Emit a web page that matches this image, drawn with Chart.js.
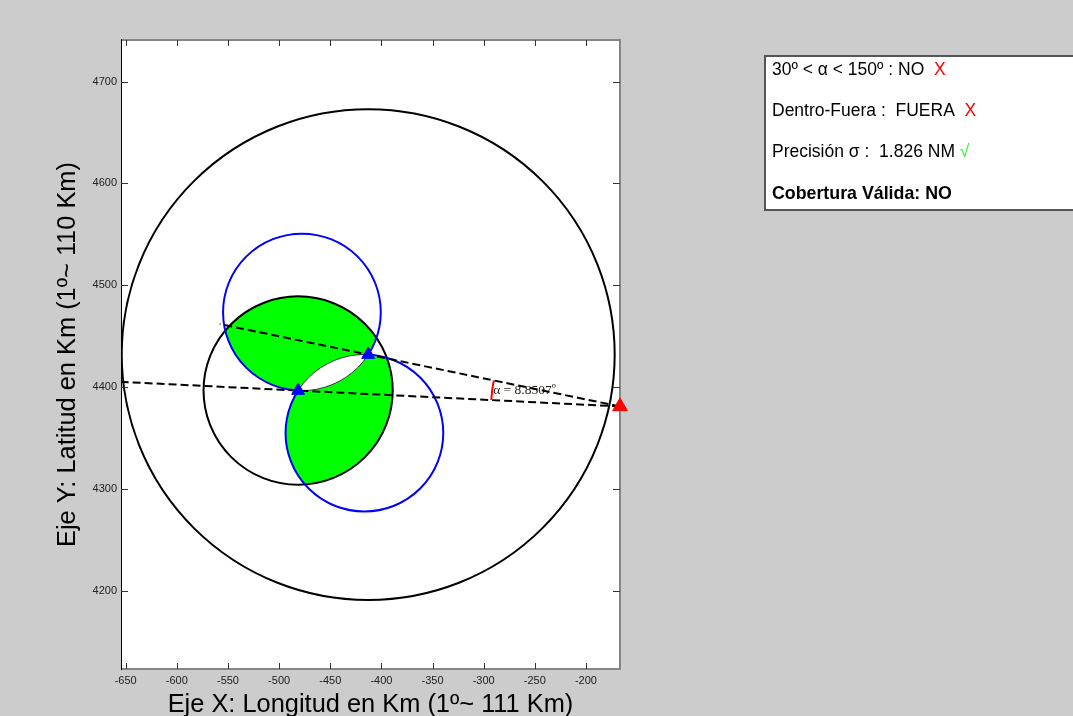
<!DOCTYPE html>
<html>
<head>
<meta charset="utf-8">
<script src="https://cdn.jsdelivr.net/npm/chart.js@4.4.1/dist/chart.umd.min.js"></script>
<style>
  html, body { margin: 0; padding: 0; background: #cccccc; overflow: hidden; }
  canvas { display: block; }
</style>
</head>
<body>
<canvas id="c" width="1073" height="716"></canvas>
<script>
// Axis ticks and visible range (km)
const xTicks = [-650, -600, -550, -500, -450, -400, -350, -300, -250, -200];
const yTicks = [4200, 4300, 4400, 4500, 4600, 4700];
const xRange = [-654.6, -166.7];
const yRange = [4123.1, 4740.9];

// Receiving stations (blue) and target (red), km
const stationX = [-412.9, -481.4];
const stationY = [4431.9, 4396.6];
const targetX = [-166.7];
const targetY = [4381.0];

// Coverage radius around each station, km
const coverageR = [241.0, 92.5];

// Circles of constant 30º subtended angle over the station baseline
const locusX = [-477.7, -416.6];
const locusY = [4473.6, 4354.9];
const locusR = [77.1, 77.1];

// Bearing lines from the target through each station, far ends
const lineEndX = [-558.0, -653.5];
const lineEndY = [4461.9, 4405.1];

// Angle between bearings at the target, degrees
const alphaDeg = 8.8507;
const alphaArcR = 126;

// Status panel
const statusText = ['30º < α < 150º : NO  ', 'Dentro-Fuera :  FUERA  ', 'Precisión σ :  1.826 NM '];
const statusMark = ['X', 'X', '√'];
const statusMarkColor = ['#ff0000', '#ff0000', '#33ee33'];
const verdictText = 'Cobertura Válida: NO';

const FONT = 'Liberation Sans';
Chart.defaults.font.family = FONT;

function mapper(chart) {
  const xs = chart.scales.x, ys = chart.scales.y;
  return {
    px: v => xs.getPixelForValue(v),
    py: v => ys.getPixelForValue(v),
    rx: r => Math.abs(xs.getPixelForValue(xs.min + r) - xs.getPixelForValue(xs.min)),
    ry: r => Math.abs(ys.getPixelForValue(ys.min + r) - ys.getPixelForValue(ys.min))
  };
}

function circlePath(ctx, m, cx, cy, r) {
  const x = m.px(cx), y = m.py(cy);
  ctx.moveTo(x + m.rx(r), y);
  ctx.ellipse(x, y, m.rx(r), m.ry(r), 0, 0, Math.PI * 2);
}

const geometry = {
  id: 'geometry',
  beforeDraw(chart) {
    const { ctx, chartArea: a } = chart;
    ctx.save();
    ctx.fillStyle = '#cccccc';
    ctx.fillRect(0, 0, chart.width, chart.height);
    ctx.fillStyle = '#ffffff';
    ctx.fillRect(a.left, a.top, a.right - a.left, a.bottom - a.top);
    ctx.restore();
  },
  beforeDatasetsDraw(chart) {
    const { ctx, chartArea: a } = chart;
    const m = mapper(chart);
    ctx.save();
    ctx.beginPath();
    ctx.rect(a.left, a.top, a.right - a.left, a.bottom - a.top);
    ctx.clip();

    // Valid zone: inside the inner coverage circle and inside exactly one 30º circle
    ctx.save();
    ctx.beginPath();
    circlePath(ctx, m, stationX[1], stationY[1], coverageR[1]);
    ctx.clip();
    ctx.beginPath();
    circlePath(ctx, m, locusX[0], locusY[0], locusR[0]);
    circlePath(ctx, m, locusX[1], locusY[1], locusR[1]);
    ctx.fillStyle = '#00ff00';
    ctx.fill('evenodd');
    ctx.restore();

    // 150º boundary: the part of each locus circle lying inside the other one
    for (let i = 0; i < 2; i++) {
      const j = 1 - i;
      ctx.save();
      ctx.beginPath();
      circlePath(ctx, m, locusX[j], locusY[j], locusR[j]);
      ctx.clip();
      ctx.beginPath();
      circlePath(ctx, m, locusX[i], locusY[i], locusR[i]);
      ctx.strokeStyle = '#333333';
      ctx.lineWidth = 1;
      ctx.stroke();
      ctx.restore();
    }

    // Coverage circles
    ctx.strokeStyle = '#000000';
    ctx.lineWidth = 2;
    for (let i = 0; i < 2; i++) {
      ctx.beginPath();
      circlePath(ctx, m, stationX[i], stationY[i], coverageR[i]);
      ctx.stroke();
    }

    // 30º boundary: the part of each locus circle lying outside the other one
    for (let i = 0; i < 2; i++) {
      const j = 1 - i;
      ctx.save();
      ctx.beginPath();
      ctx.rect(0, 0, chart.width, chart.height);
      circlePath(ctx, m, locusX[j], locusY[j], locusR[j]);
      ctx.clip('evenodd');
      ctx.beginPath();
      circlePath(ctx, m, locusX[i], locusY[i], locusR[i]);
      ctx.strokeStyle = '#0000ff';
      ctx.lineWidth = 2;
      ctx.stroke();
      ctx.restore();
    }

    // Angle arc at the target
    const tx = m.px(targetX[0]), ty = m.py(targetY[0]);
    const angB = Math.atan2(m.py(stationY[1]) - ty, m.px(stationX[1]) - tx);
    const rArc = m.rx(alphaArcR);
    const angEnd = angB + alphaDeg * Math.PI / 180;
    ctx.beginPath();
    ctx.arc(tx, ty, rArc, angB, angEnd);
    ctx.strokeStyle = '#ff0000';
    ctx.lineWidth = 2;
    ctx.stroke();

    const mid = (angB + angEnd) / 2;
    ctx.fillStyle = '#2a2218';
    ctx.font = '13.5px "Liberation Serif"';
    ctx.textAlign = 'left';
    ctx.textBaseline = 'middle';
    ctx.fillText('α = ' + alphaDeg.toFixed(4) + 'º', tx + Math.cos(mid) * rArc + 1, ty + Math.sin(mid) * rArc);
    ctx.restore();

    // Axes box
    ctx.save();
    ctx.strokeStyle = '#858585';
    ctx.lineWidth = 2;
    ctx.beginPath();
    ctx.moveTo(a.left, a.top); ctx.lineTo(a.right, a.top); ctx.lineTo(a.right, a.bottom); ctx.lineTo(a.left, a.bottom);
    ctx.stroke();
    ctx.strokeStyle = '#000000';
    ctx.lineWidth = 1;
    ctx.beginPath();
    ctx.moveTo(a.left + 0.5, a.top - 1); ctx.lineTo(a.left + 0.5, a.bottom + 1);
    ctx.stroke();

    // Inward tick marks on all four sides
    ctx.strokeStyle = '#333333';
    ctx.lineWidth = 1;
    ctx.beginPath();
    xTicks.forEach(v => {
      const x = Math.round(m.px(v)) + 0.5;
      ctx.moveTo(x, a.bottom); ctx.lineTo(x, a.bottom - 6);
      ctx.moveTo(x, a.top); ctx.lineTo(x, a.top + 6);
    });
    yTicks.forEach(v => {
      const y = Math.round(m.py(v)) + 0.5;
      ctx.moveTo(a.left, y); ctx.lineTo(a.left + 7, y);
      ctx.moveTo(a.right, y); ctx.lineTo(a.right - 7, y);
    });
    ctx.stroke();
    ctx.restore();
  },
  afterDraw(chart) {
    const { ctx } = chart;
    ctx.save();
    ctx.fillStyle = '#ffffff';
    ctx.fillRect(765, 56, 320, 154);
    ctx.strokeStyle = '#555555';
    ctx.lineWidth = 2;
    ctx.strokeRect(765, 56, 320, 154);

    const left = 772;
    const baselines = [74.5, 116, 157, 198.5];
    ctx.textAlign = 'left';
    ctx.textBaseline = 'alphabetic';
    ctx.font = '17.5px "' + FONT + '"';
    statusText.forEach((t, i) => {
      ctx.fillStyle = '#000000';
      ctx.fillText(t, left, baselines[i]);
      const w = ctx.measureText(t).width;
      ctx.fillStyle = statusMarkColor[i];
      ctx.fillText(statusMark[i], left + w, baselines[i]);
    });
    ctx.font = 'bold 17.8px "' + FONT + '"';
    ctx.fillStyle = '#000000';
    ctx.fillText(verdictText, left, baselines[3]);
    ctx.restore();
  }
};

const pts = (xs, ys) => xs.map((x, i) => ({ x, y: ys[i] }));

new Chart(document.getElementById('c'), {
  type: 'scatter',
  data: {
    datasets: [
      {
        label: 'Estaciones',
        data: pts(stationX, stationY),
        pointStyle: 'triangle',
        pointRadius: 7.5,
        backgroundColor: '#0000ff',
        borderColor: '#0000ff',
        borderWidth: 1,
        order: 0
      },
      {
        label: 'Blanco',
        data: pts(targetX, targetY),
        pointStyle: 'triangle',
        pointRadius: 8.5,
        backgroundColor: '#ff0000',
        borderColor: '#ff0000',
        borderWidth: 1,
        clip: false,
        order: 0
      },
      {
        label: 'Marcación 1',
        data: [{ x: targetX[0], y: targetY[0] }, { x: lineEndX[0], y: lineEndY[0] }],
        showLine: true,
        borderColor: '#000000',
        borderWidth: 2,
        borderDash: [8, 4],
        pointRadius: 0,
        order: 1
      },
      {
        label: 'Marcación 2',
        data: [{ x: targetX[0], y: targetY[0] }, { x: lineEndX[1], y: lineEndY[1] }],
        showLine: true,
        borderColor: '#000000',
        borderWidth: 2,
        borderDash: [8, 4],
        pointRadius: 0,
        order: 1
      }
    ]
  },
  options: {
    responsive: false,
    devicePixelRatio: 1,
    animation: false,
    events: [],
    layout: { padding: { left: 0, top: 40, right: 453, bottom: 0 } },
    plugins: { legend: { display: false }, tooltip: { enabled: false }, title: { display: false } },
    scales: {
      x: {
        type: 'linear',
        min: xRange[0],
        max: xRange[1],
        afterBuildTicks: s => { s.ticks = xTicks.map(v => ({ value: v })); },
        afterFit: s => { s.height = 47; },
        grid: { display: false, drawTicks: false },
        border: { display: false },
        ticks: { padding: 5, color: '#222222', font: { family: FONT, size: 11 }, maxRotation: 0, autoSkip: false, callback: v => String(v) },
        title: {
          display: true,
          text: 'Eje X: Longitud en Km (1º~ 111 Km)',
          color: '#000000',
          font: { family: FONT, size: 25.4, lineHeight: 0.9 },
          padding: { top: 0, bottom: 0 }
        }
      },
      y: {
        type: 'linear',
        min: yRange[0],
        max: yRange[1],
        afterBuildTicks: s => { s.ticks = yTicks.map(v => ({ value: v })); },
        afterFit: s => { s.width = 121; },
        grid: { display: false, drawTicks: false },
        border: { display: false },
        ticks: { padding: 4, color: '#222222', font: { family: FONT, size: 11 }, autoSkip: false, callback: v => String(v) },
        title: {
          display: true,
          text: 'Eje Y: Latitud en Km (1º~ 110 Km)',
          color: '#000000',
          font: { family: FONT, size: 25.4, lineHeight: 0.9 },
          padding: { top: 57, bottom: 0 }
        }
      }
    }
  },
  plugins: [geometry]
});
</script>
</body>
</html>
